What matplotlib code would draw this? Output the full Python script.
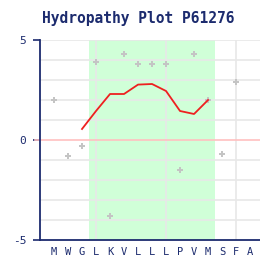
import matplotlib
matplotlib.use("Agg")
import matplotlib.pyplot as plt

residues = list("MWGLKVLLLPVMSFA")
point_values = [2.0, -0.8, -0.3, 3.9, -3.8, 4.3, 3.8, 3.8, 3.8, -1.5, 4.3, 2.0, -0.7, 2.9]
line_start = 2
line_values = [0.55, 1.45, 2.3, 2.3, 2.77, 2.8, 2.45, 1.45, 1.3, 2.0]
region_start, region_end = 3, 11
vgrid_positions = [3, 8, 13]
y_ticks = [-5, 0, 5]
title = "Hydropathy Plot P61276"

navy = "#1c2b6e"
fig = plt.figure(figsize=(2.6, 2.6), dpi=100)
ax = fig.add_axes([40 / 260, 20 / 260, 220 / 260, 200 / 260])
ax.set_xlim(-1, 14.71)
ax.set_ylim(-5, 5)

ax.axvspan(region_start - 0.5, region_end + 0.5, color="#d0ffd8", zorder=0, lw=0)
for y in range(-4, 5):
    if y != 0:
        ax.axhline(y, color="#e8e8e8", lw=1.2, zorder=1)
ax.axhline(5, color="#e8e8e8", lw=1.2, zorder=1)
for x in vgrid_positions:
    ax.axvline(x, color="#e8e8e8", lw=1.2, zorder=1)
ax.axhline(0, xmin=-5 / 220, xmax=1, color="#ffc0c0", lw=1.2, zorder=2, clip_on=False)

ax.scatter(range(len(point_values)), point_values, marker="P", s=16, color="#c4c4c4",
           linewidths=0, zorder=3)
ax.plot(range(line_start, line_start + len(line_values)), line_values, color="#ee2020",
        lw=1.3, zorder=4)

for s in ["top", "right"]:
    ax.spines[s].set_visible(False)
for s in ["left", "bottom"]:
    ax.spines[s].set_color(navy)
    ax.spines[s].set_linewidth(1.3)

ax.set_xticks(range(len(residues)))
ax.set_xticklabels(residues, family="DejaVu Sans Mono", fontsize=7.5, color=navy)
ax.tick_params(axis="x", length=0, pad=5)
ax.set_yticks(y_ticks)
ax.set_yticklabels([str(v) for v in y_ticks], family="DejaVu Sans Mono", fontsize=8, color=navy)
ax.tick_params(axis="y", length=5, color=navy, width=1.2, pad=5)

fig.text(138 / 260, 1 - 18 / 260, title, ha="center", va="center",
         family="DejaVu Sans Mono", fontsize=10.5, fontweight="bold", color=navy)

fig.savefig("out.png", dpi=100, facecolor="white")
